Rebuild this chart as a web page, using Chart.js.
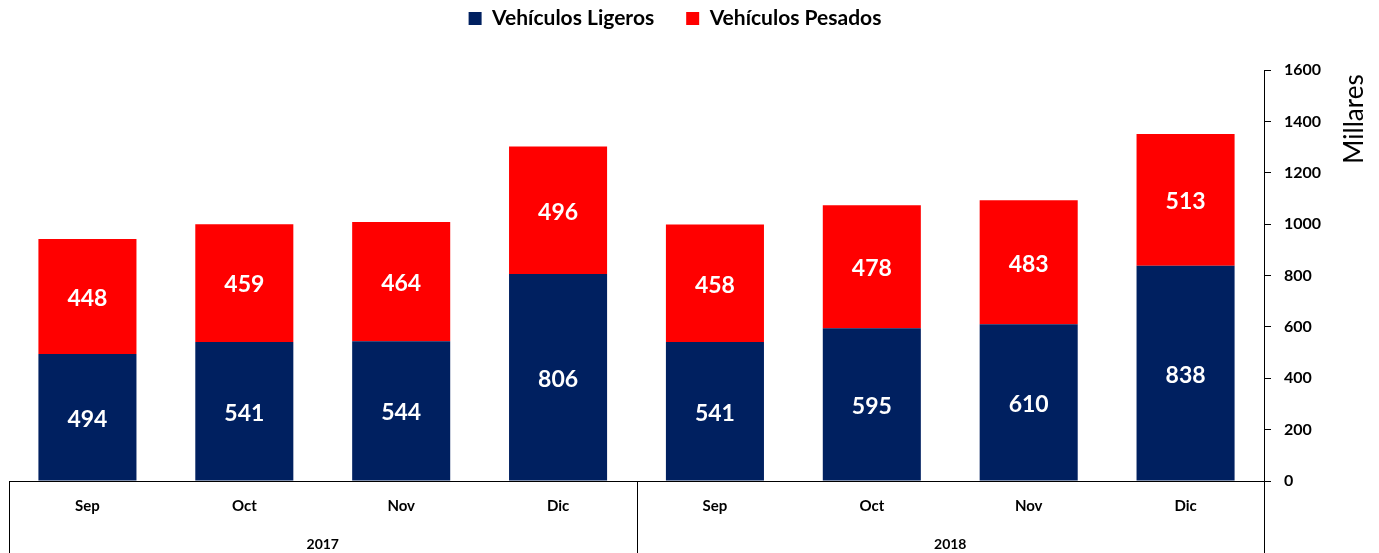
<!DOCTYPE html>
<html><head><meta charset="utf-8">
<script src="https://cdn.jsdelivr.net/npm/chart.js@4/dist/chart.umd.min.js"></script>
<style>html,body{margin:0;padding:0;background:#fff}#wrap{width:1379px;height:553px}</style>
</head><body><div id="wrap"><canvas id="c" width="1379" height="553"></canvas></div>
<script>
const months = ['Sep','Oct','Nov','Dic','Sep','Oct','Nov','Dic'];
const years = ['2017','2018'];
const yearSpan = [4,4];
const ligeros = [494,541,544,806,541,595,610,838];
const pesados = [448,459,464,496,458,478,483,513];
const yTicks = [0,200,400,600,800,1000,1200,1400,1600];
const FONT = 'Lato, "Open Sans", sans-serif';

const labelsPlugin = {
  id:'barLabels',
  afterDatasetsDraw(chart){
    const ctx = chart.ctx;
    ctx.save();
    ctx.fillStyle = '#fff';
    ctx.font = 'bold 23px ' + FONT;
    ctx.textAlign = 'center'; ctx.textBaseline = 'middle';
    chart.data.datasets.forEach((ds, di) => {
      const meta = chart.getDatasetMeta(di);
      meta.data.forEach((el, i) => {
        ctx.fillText(String(ds.data[i]), el.x, (el.y + el.base)/2 + 2);
      });
    });
    ctx.restore();
  }
};

const axisPlugin = {
  id:'multiAxis',
  afterDraw(chart){
    const ctx = chart.ctx, x = chart.scales.x, ca = chart.chartArea;
    ctx.save();
    ctx.strokeStyle = '#000'; ctx.lineWidth = 1;
    const bounds = [x.left];
    let idx = 0;
    yearSpan.forEach(n => { idx += n; const a = x.getPixelForValue(idx-1), b = idx < months.length ? x.getPixelForValue(idx) : null; bounds.push(b === null ? x.right : (a+b)/2); });
    bounds.forEach(bx => { const px = Math.round(bx)+0.5; ctx.beginPath(); ctx.moveTo(px, ca.bottom); ctx.lineTo(px, chart.height); ctx.stroke(); });
    ctx.fillStyle = '#000';
    ctx.font = 'bold 14px ' + FONT;
    ctx.textAlign = 'center'; ctx.textBaseline = 'middle';
    years.forEach((yr, i) => { ctx.fillText(yr, (bounds[i]+bounds[i+1])/2, ca.bottom + 63); });
    // y title
    ctx.font = '26px ' + FONT;
    ctx.translate(chart.width - 24, ca.top + 49);
    ctx.rotate(-Math.PI/2);
    ctx.fillText('Millares', 0, 0);
    ctx.restore();
  }
};

const legendFit = {
  id:'legendFit',
  beforeInit(chart){
    const orig = chart.legend.fit;
    chart.legend.fit = function(){ orig.bind(chart.legend)(); this.height = 70; };
  },
  afterLayout(chart){
    const L = chart.legend;
    L.top = -24;
    L.left = L.left - 38;
  }
};

new Chart(document.getElementById('c'), {
  type:'bar',
  data:{
    labels: months,
    datasets:[
      {label:'Vehículos Ligeros', data: ligeros, backgroundColor:'#002060', stack:'s'},
      {label:'Vehículos Pesados', data: pesados, backgroundColor:'#FF0000', stack:'s'}
    ]
  },
  options:{
    responsive:false, animation:false,
    layout:{padding:{left:9, right:0, top:0, bottom:0}},
    datasets:{bar:{categoryPercentage:1, barPercentage:0.625}},
    plugins:{
      tooltip:{enabled:false},
      legend:{
        position:'top', align:'center',
        labels:{font:{family:FONT, size:21, weight:'bold'}, color:'#000', boxWidth:13, boxHeight:13, padding:32}
      }
    },
    scales:{
      x:{
        stacked:true,
        grid:{display:false, drawTicks:false},
        border:{display:true, color:'#000', width:1},
        ticks:{font:{family:FONT, size:15, weight:'bold'}, color:'#000', padding:16, maxRotation:0},
        afterFit(s){ s.height = 72; }
      },
      y:{
        stacked:true, position:'right', min:0, max:1600,
        afterBuildTicks(s){ s.ticks = yTicks.map(v => ({value:v})); },
        grid:{drawOnChartArea:false, drawTicks:true, tickLength:7, color:'#000'},
        border:{display:true, color:'#000', width:1},
        ticks:{font:{family:FONT, size:16, weight:'bold'}, color:'#000', padding:13, callback:(v)=>String(v)},
        afterFit(s){ s.width = 115; }
      }
    }
  },
  plugins:[labelsPlugin, axisPlugin, legendFit]
});
</script></body></html>
